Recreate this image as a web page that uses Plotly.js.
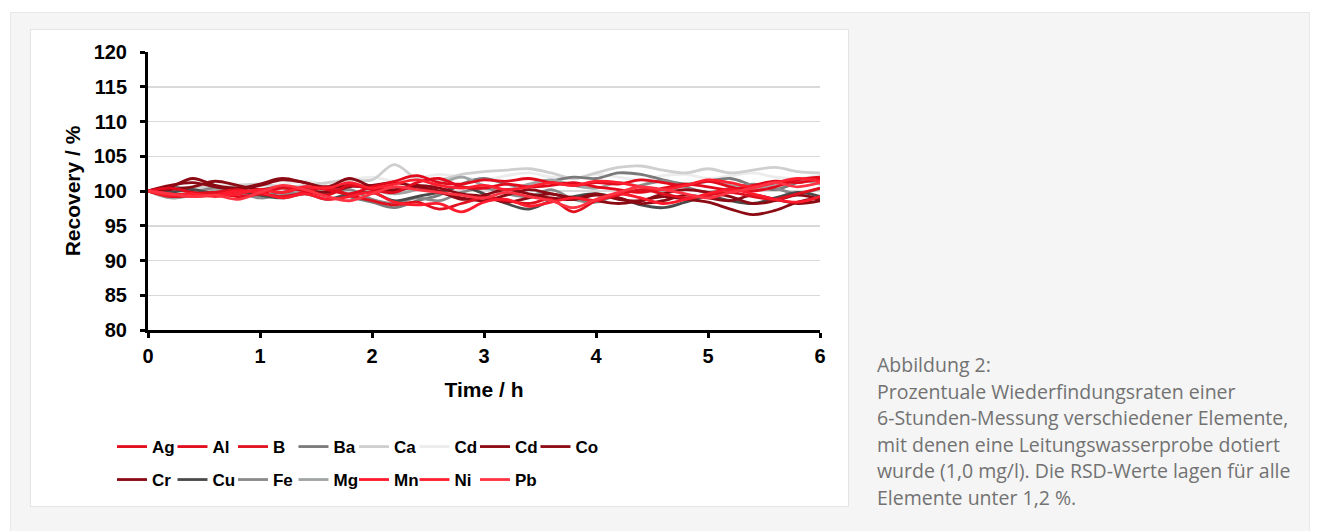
<!DOCTYPE html>
<html>
<head>
<meta charset="utf-8">
<script src="https://cdn.plot.ly/plotly-3.0.1.min.js"></script>
<style>
  html, body { margin: 0; padding: 0; background: #ffffff; }
  body { width: 1320px; height: 531px; position: relative; overflow: hidden; }
  #panel { position: absolute; left: 10px; top: 12px; width: 1300px; height: 530px;
           background: #f5f5f5; border: 1px solid #e8e8e8; box-sizing: border-box; }
  #chartbox { position: absolute; left: 30px; top: 29px; width: 819px; height: 478px;
              background: #ffffff; border: 1px solid #e4e4e4; box-sizing: border-box; }
  #chart { position: absolute; left: 30px; top: 29px; width: 819px; height: 478px; }
  #caption { position: absolute; left: 877px; top: 352px; width: 440px;
             font-family: "Open Sans", "Noto Sans", sans-serif; font-size: 19.5px;
             line-height: 26.5px; color: #727272; white-space: nowrap; }
</style>
</head>
<body>
<div id="panel"></div>
<div id="chartbox"></div>
<div id="chart"></div>
<div id="caption">Abbildung 2:<br>Prozentuale Wiederfindungsraten einer<br>6-Stunden-Messung verschiedener Elemente,<br>mit denen eine Leitungswasserprobe dotiert<br>wurde (1,0 mg/l). Die RSD-Werte lagen für alle<br>Elemente unter 1,2 %.</div>
<script>
// Time axis (hours)
const time = [0,0.2,0.4,0.6,0.8,1.0,1.2,1.4,1.6,1.8,2.0,2.2,2.4,2.6,2.8,3.0,3.2,3.4,3.6,3.8,4.0,4.2,4.4,4.6,4.8,5.0,5.2,5.4,5.6,5.8,6.0];

// Recovery (%) per element
const Ag  = [100,99.5,99.6,99.8,99.2,99.6,100.4,100.0,99.4,100.8,100.2,99.8,101.2,101.8,100.6,100.4,101.0,100.6,100.8,101.2,100.6,100.2,99.8,100.4,101.0,100.6,100.2,100.8,101.4,101.2,101.8];
const Al  = [100,100.4,99.8,99.4,99.6,100.2,99.8,100.6,100.2,99.6,100.6,101.4,102.2,101.2,101.0,101.6,101.4,101.8,101.2,100.8,101.2,101.0,101.6,101.2,100.8,101.4,100.6,100.0,100.6,101.6,102.0];
const B   = [100,99.2,99.4,99.8,100.2,99.6,99.2,99.8,100.6,99.4,98.6,98.0,98.4,97.4,98.2,99.0,98.6,98.2,98.8,97.0,98.6,99.4,100.2,99.6,99.0,99.4,99.8,99.2,98.8,99.6,100.4];
const Ba  = [100,100.6,100.2,99.8,100.4,99.4,99.8,100.2,100.6,99.2,98.4,97.6,98.6,99.4,101.0,101.8,101.0,100.6,101.4,102.0,101.8,102.6,102.4,101.6,101.0,101.4,101.8,100.8,100.2,101.2,101.6];
const Ca  = [100,100.2,100.6,100.4,100.8,101.0,100.6,100.8,101.2,101.6,101.6,103.8,101.8,101.6,102.4,102.8,103.0,103.2,102.6,101.8,102.6,103.4,103.6,103.0,102.6,103.2,102.6,103.0,103.4,102.8,102.6];
const Cd  = [100,100.4,100.2,100.8,101.0,100.6,101.0,101.4,101.0,101.6,102.0,101.4,101.8,102.4,102.0,101.6,102.2,102.6,102.0,101.8,102.4,102.0,101.6,102.2,102.4,101.8,102.2,102.6,102.0,101.8,102.2];
const Cd2 = [100,100.8,101.2,100.6,100.2,100.8,101.6,101.2,100.4,100.8,100.4,100.0,100.6,99.8,99.0,98.6,99.4,100.2,99.6,99.0,98.6,98.2,98.6,99.2,98.8,98.4,97.4,96.6,97.2,98.4,99.0];
const Co  = [100,100.6,101.8,100.8,100.4,101.0,101.8,101.2,100.6,101.8,100.6,100.2,100.8,100.4,99.6,99.2,98.4,99.0,99.6,98.8,99.4,99.0,98.2,98.6,99.4,99.0,98.6,99.4,98.8,98.2,98.6];
const Cr  = [100,100.2,100.6,101.4,100.8,100.2,100.6,100.2,99.8,100.6,100.8,101.2,100.6,100.0,98.8,99.4,100.2,99.6,99.0,98.8,99.6,98.8,98.6,99.6,100.2,99.8,99.2,98.2,98.6,99.4,98.8];
const Cu  = [100,99.8,100.2,99.6,100.0,99.4,99.0,99.6,98.8,99.6,99.8,98.6,99.2,99.8,100.6,99.6,98.2,97.4,98.6,99.2,99.6,99.0,98.0,97.6,98.4,99.2,98.6,98.2,99.0,99.8,99.2];
const Fe  = [100,99.4,99.8,100.4,99.8,99.0,99.4,100.0,99.6,100.2,98.8,98.2,99.0,98.6,99.8,100.4,99.6,99.2,100.2,98.8,98.4,99.6,100.8,101.4,100.6,99.8,100.4,101.0,100.4,99.6,100.4];
const Mg  = [100,99.0,99.4,100.0,100.6,100.2,100.4,99.8,100.2,100.8,100.2,99.6,100.2,101.0,102.0,100.8,100.2,101.0,101.6,100.8,100.4,101.2,100.6,100.0,100.8,101.4,100.8,100.2,101.0,101.6,101.0];
const Mn  = [100,99.6,99.2,99.4,100.0,99.8,99.0,99.6,98.8,99.2,99.8,98.4,98.0,98.2,97.0,98.4,98.8,97.8,98.4,99.0,98.6,99.6,99.0,98.2,98.8,99.6,100.2,99.6,98.8,98.4,99.2];
const Ni  = [100,99.4,99.6,99.2,99.6,100.2,99.8,100.6,100.4,101.2,100.4,101.0,101.6,100.8,100.4,100.8,100.2,100.6,101.2,100.8,101.4,101.2,100.6,100.2,100.8,101.6,101.2,100.6,101.2,101.8,101.4];
const Pb  = [100,99.6,99.2,99.4,98.8,99.8,100.8,100.2,99.2,98.6,99.6,100.6,100.2,99.8,99.4,99.0,99.8,99.2,98.6,97.6,98.8,99.8,100.6,100.2,99.6,99.0,99.8,100.4,101.2,100.6,101.2];

const names  = ["Ag","Al","B","Ba","Ca","Cd","Cd","Co","Cr","Cu","Fe","Mg","Mn","Ni","Pb"];
const series = [Ag, Al, B, Ba, Ca, Cd, Cd2, Co, Cr, Cu, Fe, Mg, Mn, Ni, Pb];
const colors = ["#e30a1c","#e30a1c","#e0101e","#7a7a7a","#cfcfcf","#ececec","#8c0a14","#8c0a14","#8c0a14","#4a4a4a","#8a8a8a","#a0a4a4","#ff1a2c","#ff1f2f","#ff3341"];

const traces = series.map((vals, i) => ({
  x: time, y: vals, name: names[i], type: "scatter", mode: "lines",
  line: { color: colors[i], width: 2.8, shape: "spline", smoothing: 1 },
  legend: i < 8 ? "legend" : "legend2",
  legendrank: i + 1,
  hoverinfo: "skip"
}));
// Draw lighter lines first so red lines sit on top
const order = [5,4,3,10,11,9,6,7,8,0,1,2,12,13,14];
const drawn = order.map(i => traces[i]);
// Blank legend spacers so the last legend label in each row is not clipped
["legend", "legend2"].forEach(lg => drawn.push({
  x: [null], y: [null], name: " ", type: "scatter", mode: "lines",
  line: { color: "rgba(0,0,0,0)", width: 0 }, legend: lg, legendrank: 100,
  showlegend: true, hoverinfo: "skip"
}));

const axFont = { family: "Liberation Sans, Arial, sans-serif", size: 20, color: "#000000", weight: "bold" };
const titleFont = { family: "Liberation Sans, Arial, sans-serif", size: 21, color: "#000000", weight: "bold" };
const legFont = { family: "Liberation Sans, Arial, sans-serif", size: 17, color: "#000000", weight: "bold" };

const legendBase = {
  orientation: "h", xref: "container", yref: "container",
  xanchor: "left", yanchor: "middle", x: 0.1001,
  font: legFont, bgcolor: "rgba(0,0,0,0)", borderwidth: 0,
  itemwidth: 30, entrywidth: 15.5, entrywidthmode: "pixels",
  traceorder: "normal", tracegroupgap: 0
};

const layout = {
  width: 819, height: 478,
  margin: { l: 118, r: 29, t: 23, b: 177, pad: 0 },
  paper_bgcolor: "rgba(0,0,0,0)", plot_bgcolor: "#ffffff",
  showlegend: true,
  xaxis: {
    range: [0, 6], tickvals: [0,1,2,3,4,5,6], ticktext: ["0","1","2","3","4","5","6"],
    showline: true, linecolor: "#000000", linewidth: 3,
    ticks: "outside", ticklen: 5, tickwidth: 3, tickcolor: "#000000",
    showgrid: false, zeroline: false, tickfont: axFont, ticklabelstandoff: 1,
    title: { text: "Time / h", font: titleFont, standoff: 17 }
  },
  yaxis: {
    range: [80, 120], tickvals: [80,85,90,95,100,105,110,115,120],
    ticktext: ["80","85","90","95","100","105","110","115","120"],
    showline: true, linecolor: "#000000", linewidth: 3,
    ticks: "outside", ticklen: 5, tickwidth: 3, tickcolor: "#000000",
    showgrid: true, gridcolor: "#d9d9d9", gridwidth: 1.5, zeroline: false,
    tickfont: axFont, ticklabelstandoff: 9,
    title: { text: "Recovery / %", font: titleFont, standoff: 8 }
  },
  legend: Object.assign({}, legendBase, { y: 0.1255 }),
  legend2: Object.assign({}, legendBase, { y: 0.0565 })
};

Plotly.newPlot("chart", drawn, layout, { displayModeBar: false, staticPlot: true });
</script>
</body>
</html>
